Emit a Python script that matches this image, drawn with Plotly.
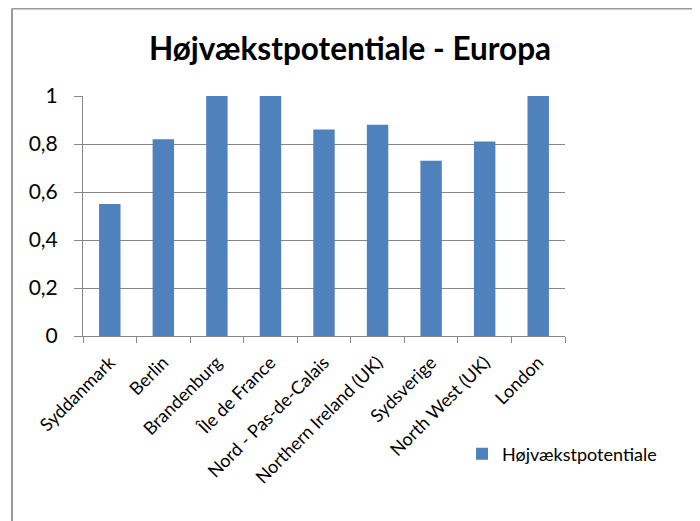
import plotly.graph_objects as go

categories = ["Syddanmark", "Berlin", "Brandenburg", "Île de France", "Nord - Pas-de-Calais",
              "Northern Ireland (UK)", "Sydsverige", "North West (UK)", "London"]
values = [0.55, 0.82, 1.0, 1.0, 0.86, 0.88, 0.73, 0.81, 1.0]
series_name = "Højvækstpotentiale"
title_text = "Højvækstpotentiale - Europa"
y_ticks = [0, 0.2, 0.4, 0.6, 0.8, 1]
y_tick_labels = ["0", "0,2", "0,4", "0,6", "0,8", "1"]

W, H = 700, 521
OFF = 8  # page body margin
L, R, T, B = 83 - OFF, 565 - OFF, 96 - OFF, 336 - OFF
pw, ph = R - L, B - T

def px(x):
    return (x - OFF - L) / pw

def py(y):
    return (B - (y - OFF)) / ph

fig = go.Figure()
fig.add_trace(go.Bar(x=categories, y=values, name=series_name,
                     marker=dict(color="#4F81BD", line=dict(width=0))))

fig.update_layout(
    width=W, height=H,
    margin=dict(l=L, r=W - R, t=T, b=H - B, pad=0, autoexpand=False),
    paper_bgcolor="white", plot_bgcolor="white",
    font=dict(family="Lato, Open Sans, sans-serif", color="black"),
    title=dict(text="<b>" + title_text + "</b>", x=(350 - OFF) / W, xanchor="center",
               y=1 - (49 - OFF) / H, yanchor="middle", font=dict(size=31.5, color="black")),
    bargap=0.6,
    showlegend=True,
    legend=dict(x=px(462), y=py(454), xanchor="left", yanchor="middle",
                font=dict(size=18), bgcolor="rgba(0,0,0,0)", itemwidth=30),
    xaxis=dict(type="category", tickson="boundaries", ticks="outside", ticklen=6,
               tickcolor="#868686", showline=True, linecolor="#868686", linewidth=1,
               tickangle=-45, tickfont=dict(size=18), showgrid=False,
               ticklabelstandoff=8, automargin=False),
    yaxis=dict(range=[0, 1], tickvals=y_ticks, ticktext=y_tick_labels,
               ticks="outside", ticklen=8, tickcolor="#868686",
               showline=True, linecolor="#868686", linewidth=1,
               showgrid=True, gridcolor="#868686", gridwidth=1,
               tickfont=dict(size=21), zeroline=False, ticklabelstandoff=12,
               automargin=False),
)

# chart frame edges (left and top visible)
fig.add_shape(type="line", xref="paper", yref="paper",
              x0=px(12), x1=px(12), y0=py(H + 20), y1=py(8.5),
              line=dict(color="#9a9a9a", width=2))
fig.add_shape(type="line", xref="paper", yref="paper",
              x0=px(12), x1=px(W + 20), y0=py(8.5), y1=py(8.5),
              line=dict(color="#9a9a9a", width=2))

fig.write_html("out.html")
